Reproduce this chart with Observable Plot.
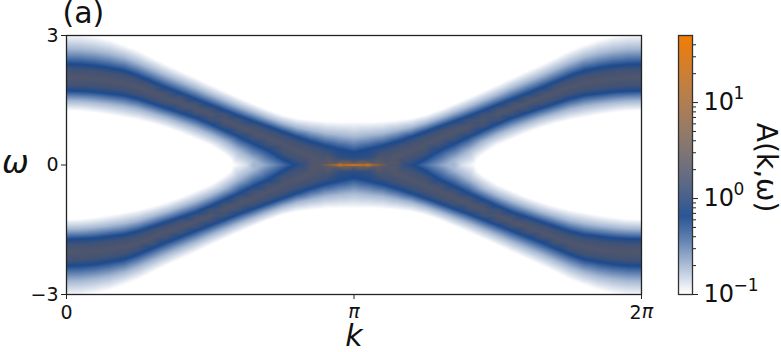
<!DOCTYPE html>
<html><head><meta charset="utf-8">
<script src="https://cdn.jsdelivr.net/npm/d3@7"></script>
<script src="https://cdn.jsdelivr.net/npm/@observablehq/plot@0.6"></script>
<style>
html,body{margin:0;padding:0;background:#fff}
#wrap{position:relative;width:781px;height:352px;overflow:hidden;font-family:"DejaVu Sans"}
#wrap svg{position:absolute;left:0;top:0;background:transparent;max-width:none}
</style></head><body><div id="wrap"></div>
<script>
// Readings from the picture, upper-left quadrant (k/pi, omega); the picture is mirror symmetric.
const kFrac      = [0,.05,.1,.15,.2,.25,.3,.35,.4,.45,.5,.55,.6,.65,.7,.75,.8,.85,.9,.95,1];
const outerWhite = [3.04,3.03,2.98,2.90,2.78,2.65,2.48,2.32,2.17,2.02,1.86,1.71,1.56,1.42,1.28,1.16,1.08,1.04,1.01,1.0,1.0];
const outerPale  = [2.69,2.68,2.64,2.58,2.49,2.36,2.21,2.06,1.92,1.78,1.63,1.49,1.35,1.22,1.09,.97,.87,.80,.73,.69,.65];
const outerBlue  = [2.34,2.33,2.30,2.25,2.19,2.07,1.93,1.79,1.66,1.53,1.40,1.27,1.14,1.02,.90,.78,.66,.55,.45,.37,.30];
const outerGray  = [2.22,2.21,2.18,2.13,2.07,1.96,1.83,1.69,1.57,1.44,1.31,1.18,1.04,.92,.79,.66,.53,.41,.30];
const crest      = [2.03,2.02,2.0,1.95,1.90,1.80,1.68,1.55,1.43,1.31,1.18,1.04,.90,.76,.62,.48,.34,.20,.08];
const crestLevel = [.26,.26,.26,.26,.26,.26,.26,.26,.26,.26,.26,.26,.26,.26,.26,.26,.27,.28,.30];
const innerGray  = [1.84,1.83,1.81,1.77,1.73,1.64,1.52,1.41,1.29,1.18,1.04,.90,.75,.60,.46,.28,.12];
const innerBlue  = [1.72,1.71,1.69,1.65,1.61,1.53,1.42,1.31,1.20,1.09,.95,.80,.65,.49,.34,.14];
const innerPale  = [1.49,1.48,1.45,1.41,1.36,1.29,1.19,1.09,.97,.85,.71,.55,.33,.12];
const innerWhite = [1.26,1.25,1.21,1.16,1.10,1.04,.96,.86,.74,.60,.46,.25];
// the tip of the white region
const tipK = [.57];
const tipW = [.14];
// along omega = 0
const axisK     = [0,.2,.4,.5,.58,.62,.68,.74,.79,.82,.85,.88,.9,.92,.94,.96,.98,1];
const axisLevel = [-1.1,-1.1,-1.1,-1.1,-1,-.88,-.65,-.4,-.19,0,.2,.28,.6,1,1.25,1.45,1.6,1.7];
// rows close to the bright line near k = pi
const nearK = [.85,.88,.9,.92,.94,.96,.98,1];
const nearA = [.27,.29,.35,.44,.52,.6,.68,.72]; // at omega = .025
const wideK = [.95,1];
const wideB = [.3,.2];                          // at omega = .07
const wideC = [.03,-.05];                       // at omega = .15
const level = {white:-1, pale:-.68, blue:-.19, gray:.12, outside:-1.1};
const yTicks = [-3,0,3];
const barTicks = [.1,1,10];
const barExp = ["−1","0","1"];
const barMinor = [.2,.3,.4,.5,.6,.7,.8,.9,2,3,4,5,6,7,8,9,20,30,40];
const colorDomain = [-1,-.19,1.699];
const colorRange = ["#ffffff","#1c4a8e","#f57c00"];

const pts = [];
const seen = new Set();
function add(f,w,v){
  for (const a of [f,2-f]) for (const b of [w,-w]) {
    const id=a+"|"+b; if(seen.has(id)) continue; seen.add(id);
    pts.push({k:a*Math.PI,w:b,v});
  }
}
kFrac.forEach((f,i)=>{
  add(f,3.4,level.outside);
  add(f,outerWhite[i],level.white);
  add(f,outerPale[i],level.pale);
  add(f,outerBlue[i],level.blue);
  if(i<outerGray.length) add(f,outerGray[i],level.gray);
  if(i<crest.length) add(f,crest[i],crestLevel[i]);
  if(i<innerGray.length) add(f,innerGray[i],level.gray);
  if(i<innerBlue.length) add(f,innerBlue[i],level.blue);
  if(i<innerPale.length) add(f,innerPale[i],level.pale);
  if(i<innerWhite.length) add(f,innerWhite[i],level.white);
});
tipK.forEach((f,i)=>add(f,tipW[i],level.white));
axisK.forEach((f,i)=>add(f,0,axisLevel[i]));
nearK.forEach((f,i)=>add(f,.025,nearA[i]));
wideK.forEach((f,i)=>{add(f,.07,wideB[i]);add(f,.15,wideC[i]);});

// colour ramp of the colour bar: one band per pixel row
const ramp = d3.range(260).map(i=>({a:-1+i/260*2.699,b:-1+(i+1.2)/260*2.699}));

const color = {type:"linear",domain:colorDomain,range:colorRange,clamp:true};
const font = "DejaVu Sans";
const main = Plot.plot({
  width:781,height:352,marginLeft:66,marginRight:140,marginTop:35,marginBottom:58,
  style:{fontFamily:font,background:"transparent"},
  x:{domain:[0,2*Math.PI],label:null},
  y:{domain:[-3,3],label:null},
  color,
  marks:[
    Plot.raster(pts,{x:"k",y:"w",fill:"v",interpolate:"barycentric",pixelSize:1}),
    Plot.frame({stroke:"#222",strokeWidth:1.3}),
    Plot.axisX([0,Math.PI,2*Math.PI],{tickSize:5,tickFormat:()=>"",label:null,stroke:"#222"}),
    Plot.axisY(yTicks,{tickSize:5,tickPadding:3,fontSize:19,label:null,stroke:"#222",fill:"#111"}),
    Plot.text(["0"],{x:0,y:-3,text:d=>d,dy:18,fontSize:19,fill:"#111"}),
    Plot.text(["π"],{x:Math.PI,y:-3,text:d=>d,dy:17,fontSize:19,fontStyle:"italic",fill:"#111"}),
    Plot.text(["2"],{x:2*Math.PI,y:-3,text:d=>d,dy:18,dx:-6,fontSize:19,fill:"#111"}),
    Plot.text(["π"],{x:2*Math.PI,y:-3,text:d=>d,dy:17,dx:6,fontSize:19,fontStyle:"italic",fill:"#111"}),
    Plot.text(["k"],{x:Math.PI,y:-3,text:d=>d,dy:42,fontSize:30,fontStyle:"italic",fill:"#111"}),
    Plot.text(["ω"],{x:0,y:0,text:d=>d,dx:-51,dy:-2,fontSize:32,fontStyle:"italic",fill:"#111"}),
    Plot.text(["(a)"],{x:0,y:3,text:d=>d,dx:-4,dy:-22,textAnchor:"start",fontSize:30,fill:"#111"})
  ]
});
const bar = Plot.plot({
  width:781,height:352,marginLeft:678,marginRight:89,marginTop:35,marginBottom:58,
  style:{fontFamily:font,background:"transparent"},
  x:{domain:[0,1],axis:null},
  y:{type:"log",domain:[.1,50],axis:null},
  color,
  marks:[
    Plot.rect(ramp,{x1:0,x2:1,y1:d=>10**d.a,y2:d=>10**Math.min(d.b,1.699),fill:d=>d.a}),
    Plot.frame({stroke:"#333",strokeWidth:1.3}),
    Plot.axisY(barMinor,{anchor:"right",tickSize:3,tickFormat:()=>"",label:null,stroke:"#222"}),
    Plot.axisY(barTicks,{anchor:"right",tickSize:5,tickFormat:()=>"",label:null,stroke:"#222"}),
    Plot.text(barTicks,{x:1,y:d=>d,text:()=>"10",textAnchor:"start",dx:11,fontSize:24,fill:"#111"}),
    Plot.text(barTicks,{x:1,y:d=>d,text:(d,i)=>barExp[i],textAnchor:"start",dx:41,dy:-9,fontSize:17,fill:"#111"}),
    Plot.text(["A(k,ω)"],{x:1,y:2.1,text:d=>d,dx:73,rotate:90,fontSize:28,fill:"#111"})
  ]
});
document.getElementById("wrap").append(main,bar);
</script></body></html>
